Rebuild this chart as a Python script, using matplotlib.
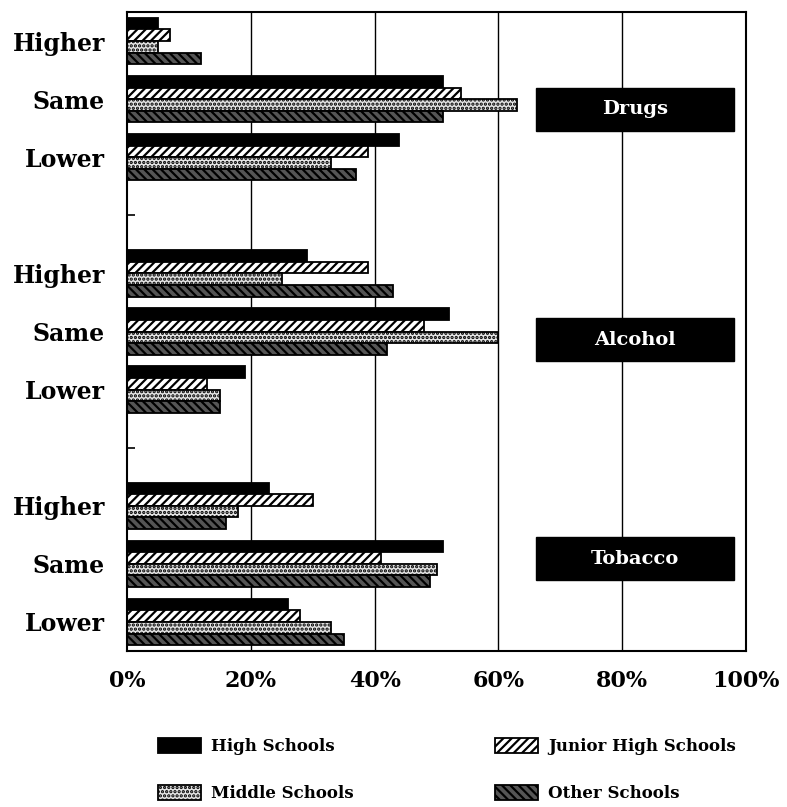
import matplotlib
matplotlib.use("Agg")
import matplotlib.pyplot as plt
from matplotlib.patches import Rectangle, Patch
import numpy as np

# ---- data ----
groups = ["Drugs", "Alcohol", "Tobacco"]
categories = ["Higher", "Same", "Lower"]
series = ["High Schools", "Junior High Schools", "Middle Schools", "Other Schools"]
high_schools = [5, 51, 44, 29, 52, 19, 23, 51, 26]
junior_high = [7, 54, 39, 39, 48, 13, 30, 41, 28]
middle_schools = [5, 63, 33, 25, 60, 15, 18, 50, 33]
other_schools = [12, 51, 37, 43, 42, 15, 16, 49, 35]
x_ticks = [0, 20, 40, 60, 80, 100]
x_ticklabels = ["0%", "20%", "40%", "60%", "80%", "100%"]
group_label_y = [1.17, 5.14, 8.91]

plt.rcParams["hatch.linewidth"] = 1.6
serif = ["DejaVu Serif"]

fig = plt.figure(figsize=(7.87, 8.07), dpi=100)
ax = fig.add_axes([127 / 787, 1 - 651 / 807, (746 - 127) / 787, (651 - 12) / 807])

# slot positions: 3 categories per group, one empty slot between groups
positions = []
for g in range(len(groups)):
    for c in range(len(categories)):
        positions.append(g * 4 + c)
positions = np.array(positions, dtype=float)

bh = 0.2
offsets = [-0.3, -0.1, 0.1, 0.3]
styles = [
    dict(facecolor="black", edgecolor="black"),
    dict(facecolor="white", edgecolor="black", hatch="////"),
    dict(facecolor="#e4e4e4", edgecolor="black", hatch="...."),
    dict(facecolor="#555555", edgecolor="black", hatch="\\\\\\\\"),
]
data = [high_schools, junior_high, middle_schools, other_schools]
for vals, off, st, name in zip(data, offsets, styles, series):
    ax.barh(positions + off, vals, height=bh, linewidth=1.3, label=name, **st)

ax.set_xlim(0, 100)
ax.set_ylim(10.5, -0.5)

for x in x_ticks[1:-1]:
    ax.axvline(x, color="black", lw=1.0, zorder=0)

ax.set_xticks(x_ticks)
ax.set_xticklabels(x_ticklabels, fontsize=16, fontweight="bold", family=serif)
ax.tick_params(axis="x", length=0, pad=14)

ax.set_yticks(range(11))
ylabels = []
for s in range(11):
    if s % 4 == 3:
        ylabels.append("")
    else:
        ylabels.append(categories[s % 4])
ax.set_yticklabels(ylabels, fontsize=17, fontweight="bold", family=serif)
ax.tick_params(axis="y", direction="in", length=6, width=1.2, pad=16)

for sp in ax.spines.values():
    sp.set_linewidth(1.5)

# group label boxes
for name, yc in zip(groups, group_label_y):
    ax.add_patch(Rectangle((66, yc - 0.37), 32, 0.74, facecolor="black",
                           edgecolor="black", zorder=5, clip_on=False))
    ax.text(82, yc, name, color="white", fontsize=14, fontweight="bold",
            family=serif, ha="center", va="center", zorder=6)

# legend
h = [Patch(linewidth=1.3, **styles[i]) for i in range(4)]
leg_kw = dict(frameon=False, loc="upper left", borderaxespad=0, borderpad=0,
              handlelength=2.6, handleheight=1.05, handletextpad=0.6,
              labelspacing=1.75, prop=dict(family=serif, weight="bold", size=12))
fig.legend([h[0], h[2]], [series[0], series[2]],
           bbox_to_anchor=(158 / 787, 1 - 738 / 807), **leg_kw)
fig.legend([h[1], h[3]], [series[1], series[3]],
           bbox_to_anchor=(495 / 787, 1 - 738 / 807), **leg_kw)

fig.savefig("out.png", dpi=100)
